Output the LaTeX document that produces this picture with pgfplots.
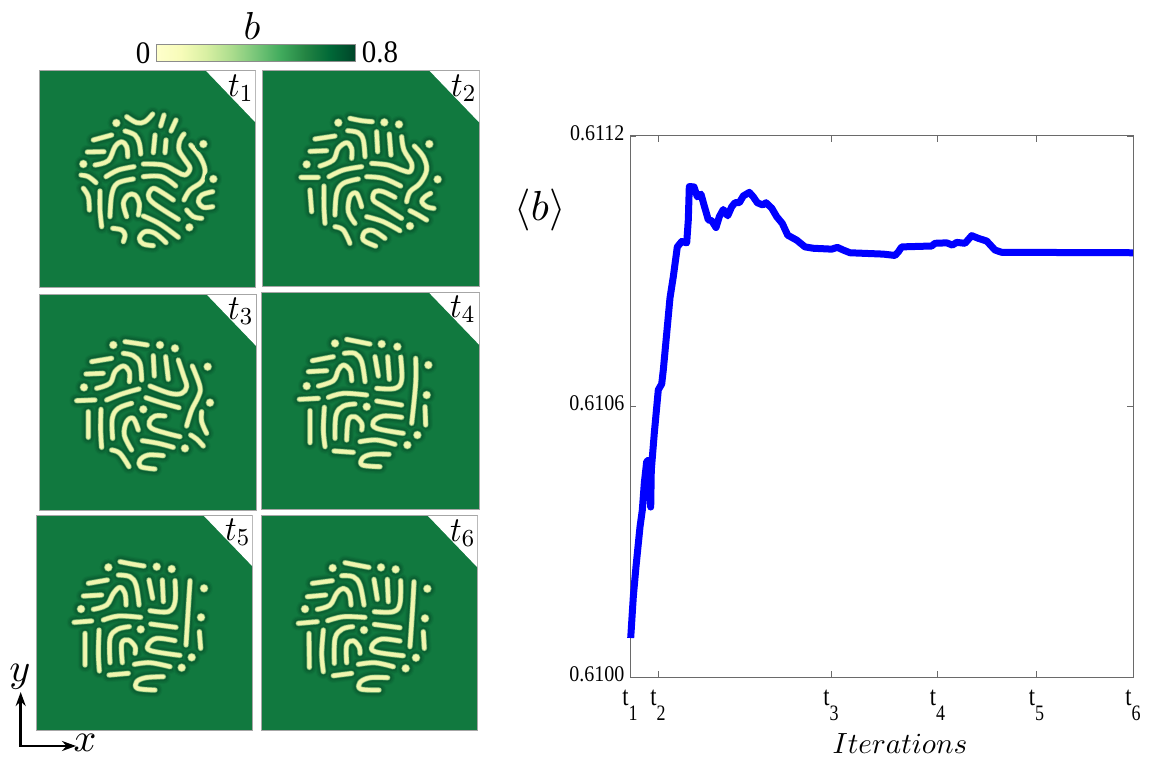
\documentclass[border=0pt]{standalone}
\usepackage{fontspec}
\setmainfont{Liberation Serif}
\usepackage{pgfplots}
\usepackage{pgfplotstable}
\usetikzlibrary{arrows.meta}
\pgfplotsset{compat=1.18}
\definecolor{bg}{HTML}{11793F}
\definecolor{hA}{HTML}{0F733C}
\definecolor{hB}{HTML}{0D6A37}
\definecolor{hC}{HTML}{0A5E31}
\definecolor{hD}{HTML}{3B8A52}
\definecolor{hE}{HTML}{BFDD94}
\definecolor{hF}{HTML}{F1F6B0}
\definecolor{axg}{HTML}{6A6A6A}
\definecolor{c1}{HTML}{FFFFCC}\definecolor{c2}{HTML}{F7FCB9}\definecolor{c3}{HTML}{D9F0A3}
\definecolor{c4}{HTML}{ADDD8E}\definecolor{c5}{HTML}{78C679}\definecolor{c6}{HTML}{41AB5D}
\definecolor{c7}{HTML}{238443}\definecolor{c8}{HTML}{006837}\definecolor{c9}{HTML}{004529}
\pgfdeclarehorizontalshading{ylgn}{100bp}{color(0bp)=(c1);color(25bp)=(c1);color(31.25bp)=(c2);color(37.5bp)=(c3);color(43.75bp)=(c4);color(50bp)=(c5);color(56.25bp)=(c6);color(62.5bp)=(c7);color(68.75bp)=(c8);color(75bp)=(c9);color(100bp)=(c9)}
\newcommand{\fs}[1]{\fontsize{#1}{#1}\selectfont}
\newcommand{\tl}[1]{t\raisebox{-1.25ex}{\fs{20}#1}}

% mean biomass against iteration (x: position along the iteration axis)
\pgfplotstableread[row sep=\\]{x y\\
0.7 0.6100865\\ 3.3 0.610178\\ 6 0.610245\\ 10 0.610333\\ 12.3 0.610370\\ 14.3 0.610430\\ 16.7 0.610478\\ 18.7 0.610481\\ 19.3 0.610422\\ 20.7 0.610377\\ 21.3 0.610459\\ 24.3 0.610541\\ 28.3 0.610637\\ 31.7 0.610650\\ 33.3 0.610681\\ 40 0.610841\\ 43.3 0.610888\\ 47.3 0.610954\\ 51.7 0.610966\\ 56.7 0.610963\\ 58.3 0.611014\\ 59.3 0.611088\\ 64 0.611087\\ 67.3 0.611065\\ 71 0.611071\\ 74 0.611047\\ 78.3 0.611014\\ 81.7 0.611012\\ 86 0.610997\\ 89.3 0.611021\\ 93.3 0.611037\\ 97.7 0.611023\\ 101.7 0.611043\\ 105 0.611052\\ 109.3 0.611052\\ 113.3 0.611067\\ 119.3 0.611075\\ 123.3 0.611065\\ 127.3 0.611052\\ 132.7 0.611047\\ 136 0.611052\\ 141.7 0.611040\\ 146.7 0.611021\\ 152.3 0.611006\\ 157.7 0.610980\\ 166.7 0.610969\\ 175 0.610954\\ 183.3 0.610951\\ 201.7 0.610949\\ 207.3 0.610953\\ 213.3 0.610947\\ 220 0.610941\\ 253.3 0.610938\\ 265 0.610935\\ 268.3 0.610943\\ 271.7 0.610954\\ 301.7 0.610956\\ 305 0.610962\\ 316.7 0.610963\\ 322.3 0.610958\\ 326.7 0.610964\\ 335 0.610962\\ 341.7 0.610979\\ 348.3 0.610973\\ 356.7 0.610967\\ 365 0.610947\\ 371.7 0.610942\\ 503 0.610941\\
}\meanb

\pgfplotstableread[row sep=\\]{x y\\
290 350\\ 320 368\\ 345 365\\ 368 342\\ nan nan\\ 402 345\\ 392 378\\ nan nan\\ 438 360\\ 423 393\\ nan nan\\
190 420\\ 245 405\\ nan nan\\ 172 456\\ 222 455\\ nan nan\\
195 495\\ 235 482\\ 255 440\\ 275 425\\ 290 440\\ 293 470\\ nan nan\\ 285 393\\ 315 405\\ 328 430\\ 332 462\\ nan nan\\ 375 405\\ 370 458\\ nan nan\\ 408 420\\ 405 458\\ nan nan\\
340 492\\ 400 495\\ 440 515\\ 465 525\\ 480 505\\ 465 480\\ 447 450\\ 450 420\\ 462 402\\ nan nan\\
482 435\\ 510 470\\ 525 510\\ 515 545\\ 480 570\\ 462 600\\ nan nan\\ 228 530\\ 265 510\\ 312 500\\ nan nan\\ 153 525\\ 175 530\\ 198 548\\ nan nan\\
340 530\\ 395 530\\ 437 558\\ nan nan\\ 160 565\\ 175 590\\ 178 630\\ nan nan\\ 210 573\\ 210 630\\ 215 680\\ nan nan\\ 240 650\\ 245 585\\ 262 550\\ 310 537\\ nan nan\\
290 650\\ 280 610\\ 295 585\\ 315 585\\ 328 610\\ 325 645\\ nan nan\\ 430 600\\ 400 580\\ 370 565\\ 355 585\\ 365 605\\ 400 630\\ 445 658\\ nan nan\\
548 575\\ 515 585\\ 505 605\\ 520 622\\ 548 620\\ nan nan\\ 470 630\\ 490 650\\ 515 655\\ nan nan\\ 340 648\\ 390 672\\ 445 712\\ nan nan\\
248 685\\ 275 690\\ 285 705\\ 280 725\\ nan nan\\ 408 728\\ 375 700\\ 345 695\\ 328 715\\ 340 732\\ 370 737\\
}\pA
\pgfplotstableread[row sep=\\]{x y\\ 259 369\\ 520 432\\ 160 492\\ 550 537\\ 478 682\\}\pAd

\pgfplotstableread[row sep=\\]{x y\\
285 175\\ 320 182\\ 352 185\\ nan nan\\ 180 237\\ 240 228\\ nan nan\\ 165 274\\ 215 272\\ nan nan\\
195 318\\ 235 300\\ 250 265\\ 275 248\\ 290 265\\ 290 295\\ nan nan\\ 278 212\\ 310 218\\ 325 240\\ 330 290\\ nan nan\\ 365 215\\ 368 275\\ nan nan\\ 403 222\\ 408 285\\ nan nan\\
440 230\\ 447 270\\ 470 310\\ 465 335\\ 440 330\\ 400 315\\ 350 310\\ nan nan\\ 478 258\\ 505 290\\ 515 330\\ 495 370\\ 465 395\\ 455 425\\ nan nan\\
222 350\\ 265 330\\ 320 320\\ nan nan\\ 138 352\\ 190 352\\ nan nan\\ 335 350\\ 385 355\\ 437 378\\ nan nan\\ 165 390\\ 170 455\\ nan nan\\ 207 378\\ 207 440\\ 210 490\\ nan nan\\
240 465\\ 245 400\\ 265 370\\ 310 357\\ nan nan\\ 300 490\\ 280 455\\ 285 410\\ 305 400\\ 320 440\\ nan nan\\ 420 412\\ 385 395\\ 360 395\\ 355 420\\ 385 440\\ 440 475\\ nan nan\\
527 400\\ 510 410\\ 500 425\\ 515 440\\ 537 445\\ nan nan\\ 465 452\\ 490 465\\ 515 480\\ nan nan\\ 335 470\\ 385 485\\ 435 512\\ nan nan\\
240 500\\ 265 510\\ 285 550\\ nan nan\\ 390 535\\ 355 512\\ 330 515\\ 325 540\\ 362 558\\
}\pB
\pgfplotstableread[row sep=\\]{x y\\ 250 188\\ 388 187\\ 432 193\\ 155 313\\ 523 252\\ 548 358\\ 465 498\\}\pBd

\pgfplotstableread[row sep=\\]{x y\\
285 155\\ 320 160\\ 352 165\\ nan nan\\ 185 215\\ 245 205\\ nan nan\\ 168 252\\ 220 250\\ nan nan\\
200 295\\ 240 280\\ 255 245\\ 280 228\\ 298 245\\ 298 275\\ nan nan\\ 280 190\\ 310 197\\ 330 220\\ 335 270\\ nan nan\\ 370 197\\ 373 258\\ nan nan\\ 407 200\\ 415 268\\ nan nan\\
445 210\\ 460 255\\ 470 290\\ 455 310\\ 420 310\\ 360 288\\ nan nan\\ 487 228\\ 510 290\\ 505 320\\ 485 360\\ 470 408\\ nan nan\\
230 330\\ 275 312\\ 327 297\\ nan nan\\ 140 332\\ 195 330\\ nan nan\\ 348 323\\ 400 340\\ 447 353\\ nan nan\\ 175 365\\ 175 442\\ nan nan\\ 213 358\\ 212 420\\ 215 472\\ nan nan\\
248 445\\ 247 385\\ 265 355\\ 305 340\\ nan nan\\ 305 480\\ 283 435\\ 290 395\\ 310 385\\ 325 420\\ nan nan\\ 405 378\\ 375 378\\ 358 395\\ 365 415\\ 410 430\\ 450 440\\ nan nan\\
515 365\\ 515 395\\ 530 430\\ nan nan\\ 482 435\\ 500 447\\ 520 468\\ nan nan\\ 337 452\\ 385 460\\ 430 472\\ nan nan\\ 245 480\\ 270 490\\ 297 530\\ nan nan\\ 400 497\\ 355 495\\ 330 510\\ 332 530\\ 375 537\\
}\pC
\pgfplotstableread[row sep=\\]{x y\\ 250 165\\ 390 165\\ 435 175\\ 162 292\\ 533 230\\ 540 338\\ 340 358\\ 465 475\\}\pCd

\pgfplotstableread[row sep=\\]{x y\\
275 148\\ 310 155\\ 345 162\\ nan nan\\ 172 212\\ 235 200\\ nan nan\\ 160 245\\ 215 242\\ nan nan\\
190 288\\ 235 272\\ 250 240\\ 265 225\\ 285 240\\ 290 272\\ nan nan\\ 268 190\\ 300 190\\ 320 215\\ 330 275\\ nan nan\\ 360 200\\ 370 258\\ nan nan\\ 398 200\\ 403 268\\ nan nan\\
437 200\\ 440 270\\ 420 295\\ 365 295\\ nan nan\\ 482 205\\ 482 280\\ 470 400\\ nan nan\\ 220 322\\ 265 310\\ 335 315\\ nan nan\\ 133 328\\ 190 325\\ nan nan\\
365 333\\ 440 345\\ nan nan\\ 165 362\\ 165 458\\ nan nan\\ 208 352\\ 205 420\\ 210 470\\ nan nan\\ 240 445\\ 243 375\\ 265 348\\ 300 342\\ nan nan\\
275 450\\ 280 390\\ 300 380\\ 320 400\\ 320 420\\ nan nan\\ 440 382\\ 385 378\\ 355 395\\ 365 415\\ 445 430\\ nan nan\\ 510 350\\ 512 405\\ nan nan\\
315 455\\ 365 450\\ 420 463\\ nan nan\\ 237 483\\ 295 487\\ nan nan\\ 402 493\\ 350 493\\ 322 505\\ 322 525\\ 375 530\\
}\pD
\pgfplotstableread[row sep=\\]{x y\\ 240 160\\ 380 162\\ 427 170\\ 155 288\\ 520 225\\ 515 315\\ 335 350\\ 487 435\\ 457 465\\}\pDd

\pgfplotstableread[row sep=\\]{x y\\
360 155\\ 395 162\\ 432 168\\ nan nan\\ 265 220\\ 322 210\\ nan nan\\ 250 258\\ 305 255\\ nan nan\\
280 298\\ 320 285\\ 340 250\\ 360 232\\ 375 250\\ 378 285\\ nan nan\\ 355 195\\ 390 200\\ 408 225\\ 417 285\\ nan nan\\ 447 210\\ 458 265\\ nan nan\\ 487 210\\ 490 275\\ nan nan\\
525 212\\ 525 275\\ 505 305\\ 450 302\\ nan nan\\ 570 212\\ 565 290\\ 558 405\\ nan nan\\ 310 330\\ 355 318\\ 422 322\\ nan nan\\ 222 337\\ 275 333\\ nan nan\\
452 342\\ 528 352\\ nan nan\\ 255 370\\ 255 465\\ nan nan\\ 297 360\\ 295 430\\ 298 483\\ nan nan\\ 330 458\\ 330 385\\ 352 358\\ 388 350\\ nan nan\\
367 458\\ 365 400\\ 385 390\\ 405 410\\ 405 430\\ nan nan\\ 525 392\\ 470 385\\ 445 403\\ 452 422\\ 540 436\\ nan nan\\ 598 365\\ 602 415\\ nan nan\\
403 463\\ 450 458\\ 510 470\\ nan nan\\ 327 495\\ 385 490\\ nan nan\\ 490 500\\ 437 503\\ 410 515\\ 412 535\\ 465 540\\
}\pE
\pgfplotstableread[row sep=\\]{x y\\ 325 172\\ 470 170\\ 515 177\\ 243 297\\ 612 235\\ 603 322\\ 422 358\\ 575 442\\ 545 473\\}\pEd

\pgfplotstableread[row sep=\\]{x y\\
270 158\\ 305 165\\ 342 172\\ nan nan\\ 172 220\\ 232 212\\ nan nan\\ 157 260\\ 212 255\\ nan nan\\
187 298\\ 225 285\\ 245 250\\ 265 235\\ 283 250\\ 288 285\\ nan nan\\ 260 197\\ 295 200\\ 315 225\\ 327 285\\ nan nan\\ 357 208\\ 367 268\\ nan nan\\ 397 208\\ 400 275\\ nan nan\\
437 212\\ 435 280\\ 415 305\\ 358 305\\ nan nan\\ 477 215\\ 473 290\\ 465 410\\ nan nan\\ 218 332\\ 265 320\\ 330 322\\ nan nan\\ 130 340\\ 187 335\\ nan nan\\
358 343\\ 435 353\\ nan nan\\ 162 370\\ 163 472\\ nan nan\\ 205 360\\ 200 430\\ 205 485\\ nan nan\\ 238 460\\ 240 385\\ 262 357\\ 293 350\\ nan nan\\
275 458\\ 275 405\\ 295 392\\ 313 412\\ 315 430\\ nan nan\\ 435 393\\ 380 387\\ 352 405\\ 360 425\\ 445 437\\ nan nan\\ 505 365\\ 508 415\\ nan nan\\
310 463\\ 360 458\\ 415 470\\ nan nan\\ 235 497\\ 290 490\\ nan nan\\ 398 503\\ 345 503\\ 315 517\\ 317 537\\ 372 540\\
}\pF
\pgfplotstableread[row sep=\\]{x y\\ 233 174\\ 378 172\\ 422 178\\ 150 297\\ 517 236\\ 510 325\\ 327 360\\ 483 443\\ 452 475\\}\pFd

\newcommand{\layer}[5]{%
\addplot[#3,line width=#4pt,no markers,unbounded coords=jump,smooth,tension=.6,line cap=round,line join=round] table {#1};
\addplot[only marks,color=#3,mark=*,mark size=#5pt,mark options={color=#3,fill=#3,draw=#3,line width=.01pt}] table {#2};}
% #1 left px, #2 top px, #3 right px, #4 bottom px, #5..#8 data window, #9 strokes, next arg dots
\newcommand{\panel}[9]{%
\pgfmathsetmacro{\pw}{#3-#1}\pgfmathsetmacro{\ph}{#4-#2}\pgfmathsetmacro{\py}{758-#4}%
\pgfmathsetmacro{\trx}{#6-0.23*(#6-#5)}\pgfmathsetmacro{\try}{#7+0.24*(#8-#7)}%
\def\pL{#1}\def\wxa{#5}\def\wxb{#6}\def\wya{#7}\def\wyb{#8}\panelii{#9}}
\newcommand{\panelii}[2]{%
\begin{axis}[scale only axis,width=\pw pt,height=\ph pt,at={(\pL pt,\py pt)},anchor=south west,
  xmin=\wxa,xmax=\wxb,ymin=\wya,ymax=\wyb,y dir=reverse,xtick=\empty,ytick=\empty,
  axis line style={draw=black!35,line width=.7pt},
  axis background/.style={fill=bg},clip=true]
\layer{#1}{#2}{hA}{14.5}{8.6}
\layer{#1}{#2}{hB}{12}{7.4}
\layer{#1}{#2}{hC}{9}{6}
\layer{#1}{#2}{hD}{6}{4.5}
\layer{#1}{#2}{hE}{4.8}{3.9}
\layer{#1}{#2}{hF}{3.5}{3.2}
\addplot[fill=white,draw=none,no markers,sharp plot,forget plot] coordinates {(\trx,\wya) (\wxb,\wya) (\wxb,\try)} -- cycle;
\addplot[black!35,line width=.7pt,no markers,sharp plot] coordinates {(\trx,\wya) (\wxb,\wya) (\wxb,\try)};
\end{axis}}

\begin{document}
\begin{tikzpicture}[x=1pt,y=1pt]
\path[use as bounding box] (0,0) rectangle (1158,758);
\panel{39}{70.7}{255.7}{287.3}{27}{677}{212}{862}{\pA}{\pAd}
\panel{262.3}{70.7}{479.3}{286.7}{22}{673}{32}{680}{\pB}{\pBd}
\panel{39.3}{294}{256}{510}{28}{678}{12}{660}{\pC}{\pCd}
\panel{261.7}{292.7}{479}{509}{20}{672}{8}{657}{\pD}{\pDd}
\panel{36.7}{515}{252.7}{730}{110}{758}{15}{660}{\pE}{\pEd}
\panel{261.7}{515.7}{477.3}{730.7}{20}{667}{17}{662}{\pF}{\pFd}

\node[xscale=3.2,yscale=3.5] at (241,670) {$t_1$};
\node[xscale=3.2,yscale=3.5] at (464,670) {$t_2$};
\node[xscale=3.2,yscale=3.5] at (241,447) {$t_3$};
\node[xscale=3.2,yscale=3.5] at (463,449) {$t_4$};
\node[xscale=3.2,yscale=3.5] at (238,226) {$t_5$};
\node[xscale=3.2,yscale=3.5] at (463,225) {$t_6$};

% colour bar
\begin{axis}[scale only axis,width=199pt,height=16.5pt,at={(156pt,697pt)},anchor=south west,
  xmin=0,xmax=0.8,ymin=0,ymax=1,xtick=\empty,ytick=\empty,
  axis line style={draw=black!45,line width=.7pt},
  axis background/.style={shading=ylgn}]
\addplot[draw=none] coordinates {(0,0) (0.8,1)};
\end{axis}
\node[font=\fs{29},yscale=1.08] at (143,705) {0};
\node[font=\fs{29},yscale=1.08] at (380,706) {0.8};
\node[scale=3.9] at (252,732) {$b$};

% direction arrows
\draw[line width=2.6pt,-{Stealth[length=14pt,width=10pt]}] (20.7,12) -- (20.7,66);
\draw[line width=2.6pt,-{Stealth[length=14pt,width=10pt]}] (19.4,12) -- (76,12);
\node[scale=4,inner sep=0pt] at (20,81) {$y$};
\node[scale=4,inner sep=0pt] at (85,15) {$x$};

% main axis
\begin{axis}[scale only axis,width=503pt,height=541pt,at={(630pt,81pt)},anchor=south west,
  xmin=0,xmax=503,ymin=0.6100,ymax=0.6112,clip=false,
  xtick={0,28,201,307.5,406.5,503},
  xticklabels={\tl{1},\tl{2},\tl{3},\tl{4},\tl{5},\tl{6}},
  ytick={0.6100,0.6106,0.6112},yticklabels={0.6100,0.6106,0.6112},
  scaled y ticks=false,
  axis line style={draw=axg,line width=1pt},
  tick style={draw=axg,line width=.8pt},
  major tick length=6pt,tick align=inside,
  xticklabel style={font=\fs{25},yshift=-5pt,xscale=.9,yscale=1.1},
  yticklabel style={font=\fs{20},xshift=-2pt,yscale=1.12},
  typeset ticklabels with strut=false]
\addplot[color=blue,line width=7pt,line join=round,line cap=butt,no markers] table {\meanb};
\end{axis}
\node[scale=2.92,inner sep=0pt] at (900,14) {$Iterations$};
\node[scale=4.2] at (540,548) {$\langle b\rangle$};
\end{tikzpicture}
\end{document}
